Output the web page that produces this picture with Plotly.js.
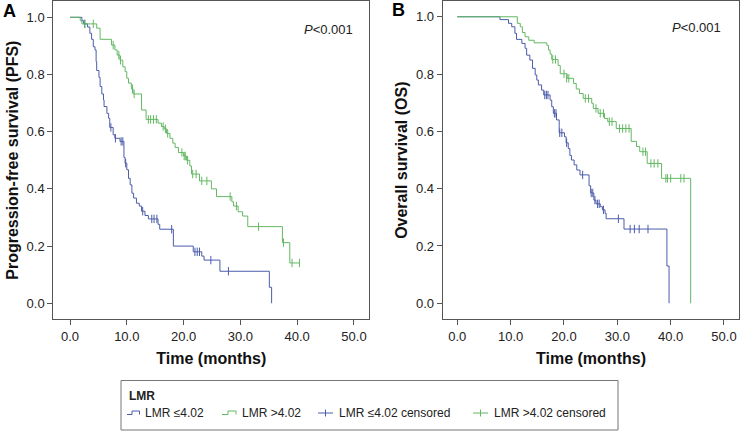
<!DOCTYPE html>
<html>
<head>
<meta charset="utf-8">
<script src="https://cdn.plot.ly/plotly-3.0.1.min.js"></script>
<style>html,body{margin:0;padding:0;background:#fff;}#chart{width:740px;height:431px;}</style>
</head>
<body>
<div id="chart"></div>
<script>
// ---- Panel A: Progression-free survival ----
var pfsLowTime  = [0, 2.1, 2.4, 3.1, 3.5, 3.8, 4.1, 4.4, 4.6, 4.7, 5.1, 5.3, 5.6, 5.9, 6.0, 6.5, 6.8, 7.0, 7.6, 7.9, 8.8, 9.5, 9.7, 10.0, 10.3, 10.6, 10.9, 11.2, 11.7, 12.2, 12.6, 13.2, 13.8, 15.5, 15.8, 18.2, 21.7, 23.2, 23.6, 26.4, 35.1, 35.5];
var pfsLowSurv  = [1.0, 0.988, 0.977, 0.966, 0.944, 0.923, 0.897, 0.886, 0.845, 0.814, 0.79, 0.758, 0.732, 0.711, 0.688, 0.664, 0.647, 0.615, 0.589, 0.577, 0.566, 0.51, 0.49, 0.467, 0.437, 0.414, 0.385, 0.368, 0.35, 0.34, 0.322, 0.307, 0.295, 0.276, 0.259, 0.2, 0.18, 0.165, 0.151, 0.112, 0.056, 0.0];
var pfsLowCensTime = [2.6, 7.2, 8.0, 9.0, 9.3, 9.8, 12.8, 14.4, 14.8, 15.3, 17.9, 22.0, 22.4, 22.8, 24.8, 27.9];
var pfsLowCensSurv = [0.977, 0.615, 0.577, 0.566, 0.566, 0.49, 0.322, 0.295, 0.295, 0.295, 0.259, 0.18, 0.18, 0.18, 0.151, 0.112];

var pfsHighTime = [0, 1.8, 2.1, 4.7, 5.3, 7.3, 7.9, 8.3, 8.8, 9.3, 9.7, 10.0, 10.3, 10.8, 11.1, 12.6, 13.4, 15.5, 16.1, 16.6, 17.0, 17.6, 18.1, 18.5, 19.1, 20.0, 20.5, 21.1, 21.4, 22.8, 24.9, 25.8, 28.5, 28.8, 29.6, 30.4, 31.3, 37.4, 38.7, 40.4];
var pfsHighSurv = [1.0, 0.988, 0.977, 0.962, 0.923, 0.903, 0.886, 0.868, 0.85, 0.827, 0.81, 0.787, 0.77, 0.75, 0.732, 0.676, 0.643, 0.63, 0.618, 0.61, 0.594, 0.577, 0.56, 0.545, 0.527, 0.515, 0.5, 0.48, 0.452, 0.428, 0.4, 0.373, 0.355, 0.34, 0.32, 0.305, 0.268, 0.212, 0.141, 0.141];
var pfsHighCensTime = [2.6, 4.1, 7.6, 8.6, 8.9, 11.0, 11.3, 13.8, 14.2, 14.7, 15.2, 16.4, 16.8, 17.2, 19.7, 20.1, 20.3, 20.7, 21.6, 22.2, 23.2, 24.1, 28.2, 29.3, 33.2, 37.6, 39.1, 40.4];
var pfsHighCensSurv = [0.977, 0.977, 0.903, 0.868, 0.85, 0.75, 0.732, 0.643, 0.643, 0.643, 0.643, 0.618, 0.61, 0.594, 0.527, 0.515, 0.515, 0.5, 0.452, 0.452, 0.428, 0.428, 0.373, 0.34, 0.268, 0.212, 0.141, 0.141];

// ---- Panel B: Overall survival ----
var osLowTime  = [0, 8.0, 9.6, 10.2, 10.8, 11.1, 12.1, 12.7, 13.0, 13.6, 14.1, 14.6, 14.9, 15.2, 15.8, 16.2, 17.4, 17.7, 18.0, 18.6, 19.1, 20.1, 20.4, 20.8, 21.1, 21.4, 21.9, 22.4, 23.0, 24.7, 25.0, 25.6, 26.0, 26.8, 27.2, 27.7, 27.9, 31.25, 39.3, 39.7];
var osLowSurv  = [1.0, 0.99, 0.977, 0.965, 0.942, 0.921, 0.907, 0.89, 0.866, 0.849, 0.82, 0.797, 0.779, 0.762, 0.744, 0.727, 0.709, 0.686, 0.663, 0.64, 0.595, 0.581, 0.56, 0.54, 0.516, 0.5, 0.483, 0.465, 0.448, 0.41, 0.385, 0.36, 0.347, 0.337, 0.326, 0.314, 0.295, 0.259, 0.13, 0.0];
var osLowCensTime = [16.4, 16.7, 17.0, 18.2, 18.5, 19.2, 19.6, 20.5, 23.5, 25.1, 25.4, 25.8, 26.3, 26.6, 27.4, 30.2, 32.4, 33.2, 34.1, 35.75];
var osLowCensSurv = [0.727, 0.727, 0.727, 0.663, 0.663, 0.595, 0.595, 0.56, 0.448, 0.385, 0.385, 0.36, 0.347, 0.347, 0.326, 0.295, 0.259, 0.259, 0.259, 0.259];

var osHighTime = [0, 11.25, 11.8, 12.2, 12.7, 13.4, 14.4, 16.8, 17.1, 17.4, 17.7, 18.9, 19.3, 20.6, 21.8, 22.3, 22.9, 23.6, 25.2, 25.5, 26.4, 27.6, 28.2, 29.8, 32.6, 33.6, 34.2, 35.6, 38.3, 43.75];
var osHighSurv = [1.0, 0.977, 0.965, 0.945, 0.93, 0.918, 0.909, 0.9, 0.884, 0.87, 0.851, 0.83, 0.801, 0.785, 0.767, 0.748, 0.732, 0.715, 0.698, 0.68, 0.663, 0.645, 0.634, 0.61, 0.565, 0.547, 0.529, 0.488, 0.436, 0.0];
var osHighCensTime = [17.9, 18.4, 20.0, 20.5, 20.9, 24.0, 24.6, 26.0, 26.8, 27.4, 28.5, 29.0, 30.4, 31.0, 31.6, 32.2, 34.8, 35.3, 36.3, 36.9, 37.6, 39.1, 39.4, 40.0, 41.9, 42.5];
var osHighCensSurv = [0.851, 0.851, 0.801, 0.785, 0.785, 0.715, 0.715, 0.68, 0.663, 0.663, 0.634, 0.634, 0.61, 0.61, 0.61, 0.61, 0.529, 0.529, 0.488, 0.488, 0.488, 0.436, 0.436, 0.436, 0.436, 0.436];

var xTickVals = [0, 10, 20, 30, 40, 50];
var xTickText = ['0.0', '10.0', '20.0', '30.0', '40.0', '50.0'];
var yTickVals = [0, 0.2, 0.4, 0.6, 0.8, 1.0];
var yTickText = ['0.0', '0.2', '0.4', '0.6', '0.8', '1.0'];
var legendLabels = ['LMR \u22644.02', 'LMR >4.02', 'LMR \u22644.02 censored', 'LMR >4.02 censored'];

var BLUE = '#4b5cab', GREEN = '#63b863';
var FONT = 'Liberation Sans, Arial, Helvetica, sans-serif';

function stepTrace(x, y, color, xa, ya) {
  return {x: x, y: y, type: 'scatter', mode: 'lines', line: {shape: 'hv', color: color, width: 1},
          xaxis: xa, yaxis: ya, hoverinfo: 'skip'};
}
function censTrace(x, y, color, xa, ya) {
  return {x: x, y: y, type: 'scatter', mode: 'markers',
          marker: {symbol: 'line-ns-open', size: 6, color: color, line: {color: color, width: 1}},
          xaxis: xa, yaxis: ya, hoverinfo: 'skip'};
}

var data = [
  stepTrace(pfsLowTime, pfsLowSurv, BLUE, 'x', 'y'),
  stepTrace(pfsHighTime, pfsHighSurv, GREEN, 'x', 'y'),
  censTrace(pfsLowCensTime, pfsLowCensSurv, BLUE, 'x', 'y'),
  censTrace(pfsHighCensTime, pfsHighCensSurv, GREEN, 'x', 'y'),
  stepTrace(osLowTime, osLowSurv, BLUE, 'x2', 'y2'),
  stepTrace(osHighTime, osHighSurv, GREEN, 'x2', 'y2'),
  censTrace(osLowCensTime, osLowCensSurv, BLUE, 'x2', 'y2'),
  censTrace(osHighCensTime, osHighCensSurv, GREEN, 'x2', 'y2')
];

var W = 740, H = 431;
function px(x) { return x / W; }
function py(y) { return 1 - y / H; }

function xAxis(domain, range) {
  return {domain: domain, range: range, tickvals: xTickVals, ticktext: xTickText,
    ticks: 'outside', ticklen: 5, tickwidth: 1, tickcolor: '#555',
    showline: true, mirror: true, linecolor: '#555', linewidth: 1,
    showgrid: false, zeroline: false, fixedrange: true,
    tickfont: {family: FONT, size: 13, color: '#222'},
    title: {text: '<b>Time (months)</b>', font: {family: FONT, size: 16, color: '#111'}, standoff: 9}};
}
function yAxis(domain, range, anchor, title) {
  return {domain: domain, range: range, anchor: anchor, tickvals: yTickVals, ticktext: yTickText,
    ticks: 'outside', ticklen: 5, tickwidth: 1, tickcolor: '#555',
    showline: true, mirror: true, linecolor: '#555', linewidth: 1,
    showgrid: false, zeroline: false, fixedrange: true,
    tickfont: {family: FONT, size: 13, color: '#222'},
    title: {text: '<b>' + title + '</b>', font: {family: FONT, size: 16, color: '#111'}, standoff: 4}};
}

var yDom = [py(319.3), py(1)];

// legend geometry (pixels)
var legY = 413;
var shapes = [
  {type: 'rect', xref: 'paper', yref: 'paper', x0: px(121), x1: px(618), y0: py(430), y1: py(380.5),
   line: {color: '#777', width: 1}, fillcolor: 'rgba(0,0,0,0)'},
  {type: 'path', xref: 'paper', yref: 'paper', line: {color: BLUE, width: 1},
   path: 'M ' + px(127) + ' ' + py(legY + 1.5) + ' L ' + px(132) + ' ' + py(legY + 1.5) + ' L ' + px(132) + ' ' + py(legY - 2) + ' L ' + px(139.5) + ' ' + py(legY - 2) + ' L ' + px(139.5) + ' ' + py(legY + 1.5)},
  {type: 'path', xref: 'paper', yref: 'paper', line: {color: GREEN, width: 1},
   path: 'M ' + px(222) + ' ' + py(legY + 1.5) + ' L ' + px(228) + ' ' + py(legY + 1.5) + ' L ' + px(228) + ' ' + py(legY - 2) + ' L ' + px(236) + ' ' + py(legY - 2) + ' L ' + px(236) + ' ' + py(legY + 1.5)},
  {type: 'line', xref: 'paper', yref: 'paper', x0: px(318), x1: px(333), y0: py(legY), y1: py(legY), line: {color: BLUE, width: 1}},
  {type: 'line', xref: 'paper', yref: 'paper', x0: px(325.5), x1: px(325.5), y0: py(legY - 3.5), y1: py(legY + 3.5), line: {color: BLUE, width: 1}},
  {type: 'line', xref: 'paper', yref: 'paper', x0: px(473), x1: px(488), y0: py(legY), y1: py(legY), line: {color: GREEN, width: 1}},
  {type: 'line', xref: 'paper', yref: 'paper', x0: px(480.5), x1: px(480.5), y0: py(legY - 3.5), y1: py(legY + 3.5), line: {color: GREEN, width: 1}}
];

function ann(text, x, y, size, xanchor, extra) {
  var a = {text: text, xref: 'paper', yref: 'paper', x: px(x), y: py(y), xanchor: xanchor, yanchor: 'middle',
           showarrow: false, font: {family: FONT, size: size, color: '#222'}};
  if (extra) for (var k in extra) a[k] = extra[k];
  return a;
}

var annotations = [
  ann('<b>A</b>', 1, 11, 18, 'left', {font: {family: FONT, size: 18, color: '#000'}}),
  ann('<b>B</b>', 390, 10, 18, 'left', {font: {family: FONT, size: 18, color: '#000'}}),
  ann('<i>P</i><0.001', 302, 29, 13, 'left'),
  ann('<i>P</i><0.001', 670, 28, 13, 'left'),
  ann('<b>LMR</b>', 127, 396, 12, 'left'),
  ann(legendLabels[0], 142.5, legY, 12, 'left'),
  ann(legendLabels[1], 239.5, legY, 12, 'left'),
  ann(legendLabels[2], 336.5, legY, 12, 'left'),
  ann(legendLabels[3], 491.5, legY, 12, 'left')
];

var layout = {
  width: W, height: H, margin: {l: 0, r: 0, t: 0, b: 0},
  paper_bgcolor: '#fff', plot_bgcolor: '#fff', showlegend: false,
  font: {family: FONT, color: '#222'},
  xaxis: xAxis([px(53.3), px(369.3)], [-2.94, 52.7]),
  yaxis: yAxis(yDom, [-0.056, 1.057], 'x', 'Progression-free survival (PFS)'),
  xaxis2: xAxis([px(442.7), px(739.3)], [-2.74, 52.87]),
  yaxis2: yAxis(yDom, [-0.056, 1.055], 'x2', 'Overall survival (OS)'),
  shapes: shapes,
  annotations: annotations
};
layout.xaxis.anchor = 'y';
layout.xaxis2.anchor = 'y2';

Plotly.newPlot('chart', data, layout, {staticPlot: true, displayModeBar: false});
</script>
</body>
</html>
